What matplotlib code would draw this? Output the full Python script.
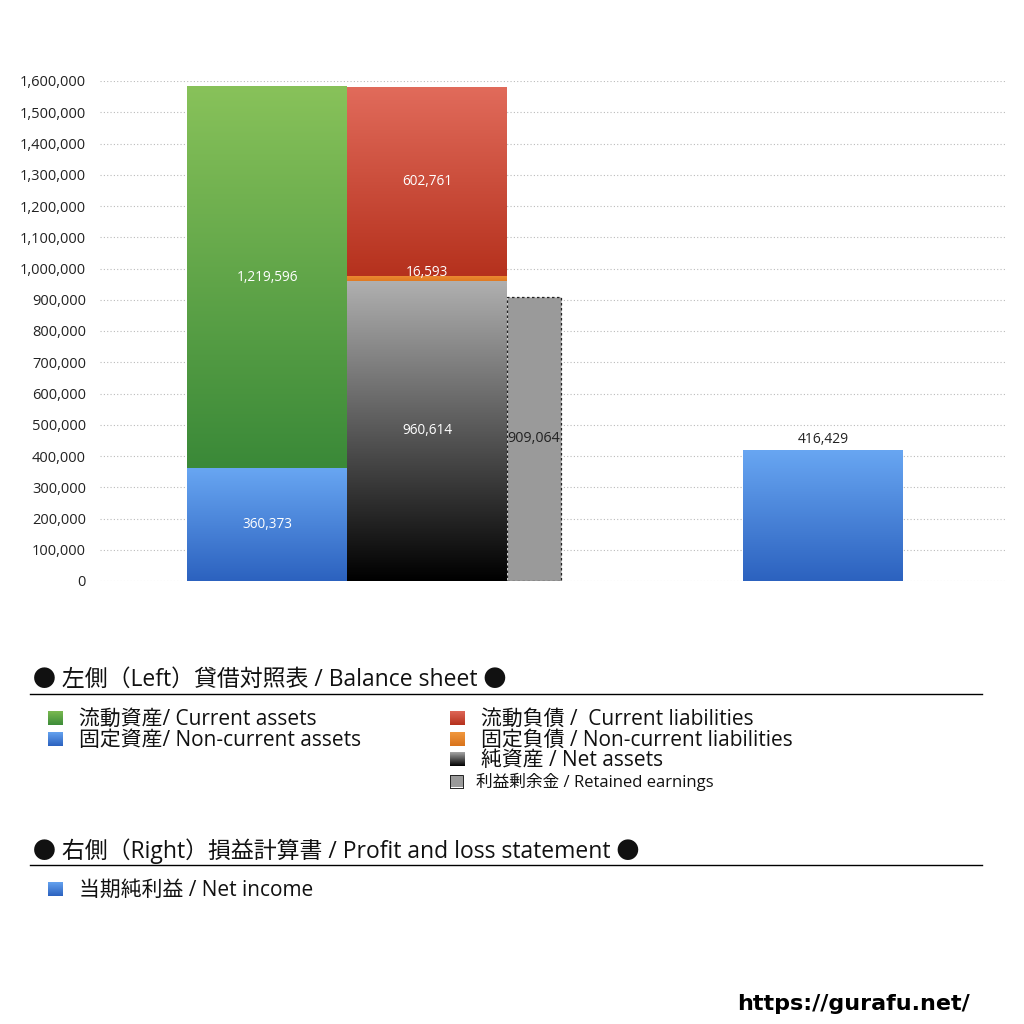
import numpy as np
import matplotlib
matplotlib.use("Agg")
import matplotlib.pyplot as plt
from matplotlib.colors import LinearSegmentedColormap
from matplotlib.lines import Line2D

plt.rcParams['font.family'] = ['Open Sans', 'Noto Sans CJK JP', 'DejaVu Sans']

# ---- data ----
current_assets = 1219596
noncurrent_assets = 360373
current_liabilities = 602761
noncurrent_liabilities = 16593
net_assets = 960614
retained_earnings = 909064
net_income = 416429

yticks = list(range(0, 1600001, 100000))

# ---- layout (axis units = pixels inside axes) ----
W = 906
fig = plt.figure(figsize=(10.24, 10.24), dpi=100)
ax = fig.add_axes([100/1024, (1024-581)/1024, W/1024, 500/1024])

def grad_bar(x0, width, bottom, height, top_c, bot_c):
    cmap = LinearSegmentedColormap.from_list("g", [bot_c, top_c])
    g = np.linspace(0, 1, 256).reshape(-1, 1)
    ax.imshow(g, cmap=cmap, aspect='auto', origin='lower',
              extent=[x0, x0 + width, bottom, bottom + height], zorder=3,
              interpolation='bicubic')

# left column: assets
b1x, bw = 87, 160
grad_bar(b1x, bw, 0, noncurrent_assets, '#68a6f2', '#2c62bf')
grad_bar(b1x, bw, noncurrent_assets, current_assets, '#88c25a', '#3a8938')
# second column: liabilities + net assets
b2x = b1x + bw
grad_bar(b2x, bw, 0, net_assets, '#b0b0b0', '#000000')
grad_bar(b2x, bw, net_assets, noncurrent_liabilities, '#ec8c34', '#e07a22')
grad_bar(b2x, bw, net_assets + noncurrent_liabilities, current_liabilities, '#e16b5b', '#b5311d')
# retained earnings
b3x, b3w = b2x + bw, 54
ax.bar(b3x, retained_earnings, width=b3w, align='edge', color='#9a9a9a',
       edgecolor='#222222', linestyle=(0, (2, 2)), linewidth=0.9, zorder=3)
# net income
b4x = 643
grad_bar(b4x, bw, 0, net_income, '#68a6f2', '#2c62bf')

ax.set_xlim(0, W)
ax.set_ylim(0, 1600000)

def fmt(v):
    return f"{v:,}"

lab = dict(fontsize=9.8, ha='center', va='center', zorder=5)
ax.text(b1x + bw/2, noncurrent_assets/2, fmt(noncurrent_assets), color='white', **lab)
ax.text(b1x + bw/2, noncurrent_assets + current_assets/2, fmt(current_assets), color='white', **lab)
ax.text(b2x + bw/2, net_assets/2, fmt(net_assets), color='white', **lab)
ax.text(b2x + bw/2, net_assets + noncurrent_liabilities + 10000, fmt(noncurrent_liabilities), color='white', **lab)
ax.text(b2x + bw/2, net_assets + noncurrent_liabilities + current_liabilities/2, fmt(current_liabilities), color='white', **lab)
ax.text(b3x + b3w/2, retained_earnings/2, fmt(retained_earnings), color='#222222',
        fontsize=10.3, ha='center', va='center', zorder=5)
ax.text(b4x + bw/2, net_income + 12000, fmt(net_income), color='#222222',
        fontsize=10, ha='center', va='bottom', zorder=5)

ax.set_yticks(yticks)
ax.set_yticklabels([fmt(v) for v in yticks], fontsize=10.5, color='#222222')
ax.set_xticks([])
ax.tick_params(axis='y', length=0, pad=10)
for s in ax.spines.values():
    s.set_visible(False)
ax.yaxis.grid(True, color='#bbbbbb', linestyle=(0, (1, 2)), linewidth=0.8, zorder=0)
ax.set_axisbelow(True)

# ---- legend section ----
def fy(py):
    return 1 - py/1024

def marker(px, py, top_c, bot_c, dashed=False, size=15):
    mx = fig.add_axes([px/1024, fy(py + size/2), size/1024, size/1024])
    cmap = LinearSegmentedColormap.from_list("m", [bot_c, top_c])
    mx.imshow(np.linspace(0, 1, 64).reshape(-1, 1), cmap=cmap, aspect='auto', origin='lower')
    mx.set_xticks([]); mx.set_yticks([])
    for s in mx.spines.values():
        if dashed:
            s.set_linestyle((0, (1, 1))); s.set_color('#222222'); s.set_linewidth(0.7)
        else:
            s.set_visible(False)

tc = '#111111'
fig.text(33/1024, fy(680), "● 左側（Left）貸借対照表 / Balance sheet ●", fontsize=16.5, va='center', color=tc)
fig.add_artist(Line2D([30/1024, 982/1024], [fy(694), fy(694)], color='black', linewidth=1))

ent = 15
marker(48, 718, '#7ebc52', '#3d8c39')
fig.text(79/1024, fy(719), "流動資産/ Current assets", fontsize=ent, va='center', color=tc)
marker(48, 739, '#68a6f2', '#2c62bf')
fig.text(79/1024, fy(740), "固定資産/ Non-current assets", fontsize=ent, va='center', color=tc)
marker(450, 718, '#e16b5b', '#b5311d')
fig.text(481/1024, fy(719), "流動負債 /  Current liabilities", fontsize=ent, va='center', color=tc)
marker(450, 739, '#f29a40', '#d9731c')
fig.text(481/1024, fy(740), "固定負債 / Non-current liabilities", fontsize=ent, va='center', color=tc)
marker(450, 759, '#b0b0b0', '#000000')
fig.text(481/1024, fy(760), "純資産 / Net assets", fontsize=ent, va='center', color=tc)
marker(450, 781, '#9a9a9a', '#9a9a9a', dashed=True, size=13)
fig.text(476/1024, fy(782), "利益剰余金 / Retained earnings", fontsize=12, va='center', color=tc)

fig.text(33/1024, fy(851), "● 右側（Right）損益計算書 / Profit and loss statement ●", fontsize=16.5, va='center', color=tc)
fig.add_artist(Line2D([30/1024, 982/1024], [fy(865), fy(865)], color='black', linewidth=1))
marker(48, 889, '#68a6f2', '#2c62bf')
fig.text(79/1024, fy(890), "当期純利益 / Net income", fontsize=ent, va='center', color=tc)

fig.text(970/1024, fy(1004), "https://gurafu.net/", fontsize=16, fontweight='bold',
         ha='right', va='center', color='black', family=['DejaVu Sans'])

fig.savefig("out.png", dpi=100, facecolor='white')
